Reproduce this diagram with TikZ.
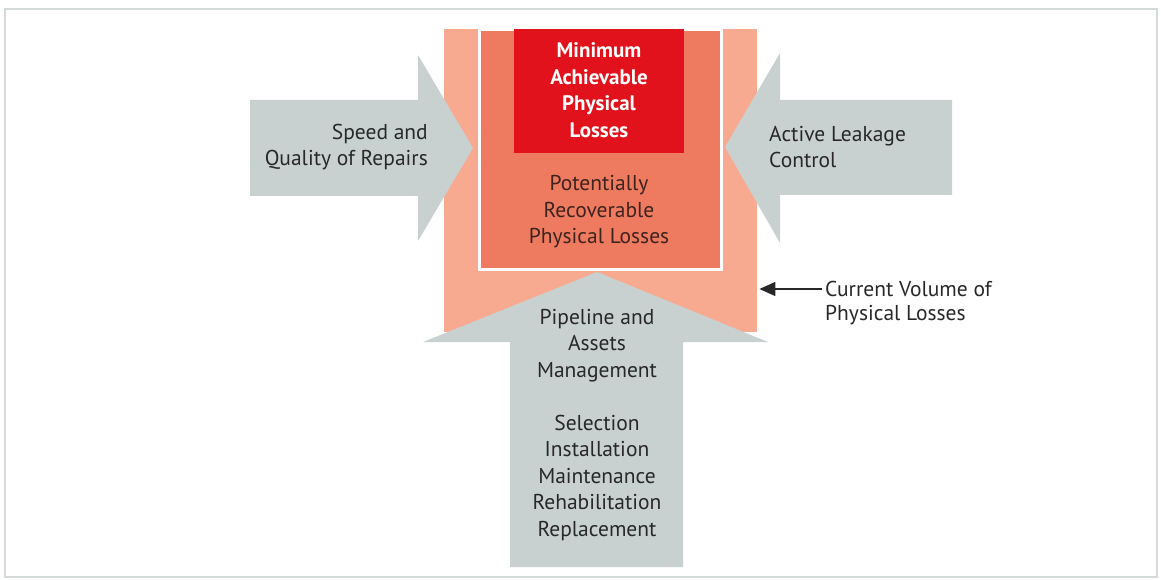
\documentclass[tikz,border=0pt]{standalone}
\usepackage{fontspec}
\setmainfont{PT Sans}
\usetikzlibrary{arrows.meta}
\definecolor{framec}{RGB}{212,218,218}
\definecolor{outerc}{RGB}{247,170,143}
\definecolor{innerc}{RGB}{238,122,96}
\definecolor{redc}{RGB}{226,18,28}
\definecolor{grayc}{RGB}{201,209,208}
\definecolor{txt}{RGB}{40,40,40}
\definecolor{txtbrown}{RGB}{62,36,30}
\begin{document}
\begin{tikzpicture}[x=1pt,y=-1pt,
  lbl/.style={font=\fontsize{21.5}{26.5}\selectfont, text=txt, inner sep=0pt},
  box/.style={draw=none, inner sep=0pt, anchor=north west},
  garrow/.style={fill=grayc, draw=none}]
\useasboundingbox (0,0) rectangle (1161,580);
\draw[framec, line width=1.5pt] (5,9) rectangle (1157,577);
% outer current volume
\node[box, fill=outerc, minimum width=313pt, minimum height=303pt] (outer) at (444,29) {};
% gray arrows
\path[garrow] (250,100) -- (418,100) -- (418,55) -- (473,148) -- (418,241) -- (418,196) -- (250,196) -- cycle;
\path[garrow] (952,100) -- (780,100) -- (780,53) -- (725,147) -- (780,243) -- (780,195) -- (952,195) -- cycle;
\path[garrow] (510,567) -- (510,342) -- (423,342) -- (597,272) -- (768,342) -- (683,342) -- (683,567) -- cycle;
% inner and red boxes
\node[box, fill=innerc, draw=white, line width=2.5pt, minimum width=242pt, minimum height=239pt] (inner) at (478,29) {};
\node[box, fill=redc, minimum width=170pt, minimum height=124pt] (red) at (514,29) {};
% texts
\node[lbl, text=white, font=\fontsize{21}{26.5}\selectfont\bfseries, align=center] (mal) at (599,90) {Minimum\\Achievable\\Physical\\Losses};
\node[lbl, text=txtbrown, align=center] (prl) at (599,212) {Potentially\\Recoverable\\Physical Losses};
\node[lbl, align=right, anchor=east] (sq) at (428,147) {Speed and\\Quality of Repairs};
\node[lbl, align=left, anchor=west] (alc) at (769,147) {Active Leakage\\Control};
\node[lbl, align=center] (pam) at (597,425) {Pipeline and\\Assets\\Management\\[26.5pt]Selection\\Installation\\Maintenance\\Rehabilitation\\Replacement};
\node[lbl, anchor=west] (cur1) at (825,289) {Current Volume of};
\node[lbl, anchor=west] (cur2) at (825,315) {Physical Losses};
\draw[txt, line width=1.4pt, -{Triangle[length=16pt,width=14pt]}] ([xshift=-3pt]cur1.west) -- ([xshift=2pt]outer.east |- cur1.west);
\end{tikzpicture}
\end{document}
